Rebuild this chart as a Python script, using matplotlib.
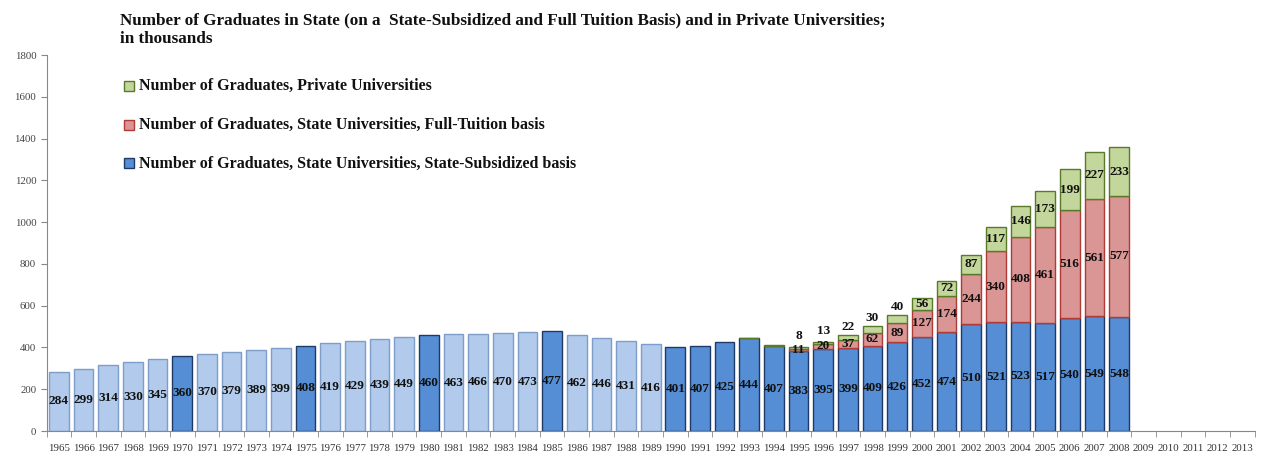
import numpy as np
import matplotlib.pyplot as plt

plt.rcParams['font.family'] = ['Liberation Serif', 'DejaVu Serif']

# Data (thousands of graduates)
years = list(range(1965, 2014))
state_subsidized = [284, 299, 314, 330, 345, 360, 370, 379, 389, 399,
                    408, 419, 429, 439, 449, 460, 463, 466, 470, 473,
                    477, 462, 446, 431, 416, 401, 407, 425, 444, 407,
                    383, 395, 399, 409, 426, 452, 474, 510, 521, 523,
                    517, 540, 549, 548]
full_tuition = [0] * 30 + [11, 20, 37, 62, 89, 127, 174, 244, 340, 408,
                           461, 516, 561, 577]
private = [0] * 28 + [3, 4, 8, 13, 22, 30, 40, 56, 72, 87, 117, 146,
                      173, 199, 227, 233]
highlight_years = [1970, 1975, 1980, 1985] + list(range(1990, 2009))

n = len(state_subsidized)
x = np.arange(n)
blue = np.array(state_subsidized)
red = np.array(full_tuition)
green = np.array(private)

fig = plt.figure(figsize=(12.61, 4.59), dpi=100)
ax = fig.add_axes([0.037, 0.061, 0.958, 0.819])

w = 0.8
face_blue = ['#558ED5' if years[i] in highlight_years else '#B2CBEC' for i in range(n)]
edge_blue = ['#1F3A66' if years[i] in highlight_years else '#7E9DC9' for i in range(n)]
ax.bar(x, blue, w, color=face_blue, edgecolor=edge_blue, linewidth=1.0, zorder=2)

rm = red > 0
ax.bar(x[rm], red[rm], w, bottom=blue[rm], color='#D99694', edgecolor='#B03A36',
       linewidth=1.0, zorder=2)
gm = green > 0
ax.bar(x[gm], green[gm], w, bottom=(blue + red)[gm], color='#C3D69B', edgecolor='#5A7A2A',
       linewidth=1.0, zorder=2)

lab = dict(ha='center', va='center', fontsize=9.5, fontweight='bold', color='#111111', zorder=3)
for i in range(n):
    ax.text(x[i], blue[i] / 2, str(blue[i]), **lab)
    if red[i] >= 8:
        ax.text(x[i], blue[i] + red[i] / 2, str(red[i]), **lab)
    if green[i] >= 8:
        top = blue[i] + red[i]
        if green[i] < 50:
            ax.text(x[i], top + green[i] + max(40, 62 - green[i]), str(green[i]), **lab)
        else:
            ax.text(x[i], top + green[i] / 2, str(green[i]), **lab)

ax.set_xlim(-0.5, len(years) - 0.5)
ax.set_ylim(0, 1800)
ax.set_yticks(range(0, 1801, 200))
ax.set_xticks(np.arange(len(years)))
ax.set_xticklabels([str(y) for y in years])
ax.set_xticks(np.arange(-0.5, len(years), 1), minor=True)
ax.tick_params(axis='x', which='major', length=0, labelsize=7.8, colors='#333333', pad=9)
ax.tick_params(axis='x', which='minor', length=4, color='#888888', direction='out')
ax.tick_params(axis='y', length=4, color='#888888', labelsize=7.8, labelcolor='#444444')
for s in ['top', 'right']:
    ax.spines[s].set_visible(False)
for s in ['left', 'bottom']:
    ax.spines[s].set_color('#888888')

fig.text(0.095, 0.955, 'Number of Graduates in State (on a  State-Subsidized and Full Tuition Basis) and in Private Universities;',
         fontsize=12.3, fontweight='bold', va='center', color='#111111')
fig.text(0.095, 0.915, 'in thousands', fontsize=12.3, fontweight='bold', va='center', color='#111111')

legend_items = [('Number of Graduates, Private Universities', '#C3D69B', '#5A7A2A'),
                ('Number of Graduates, State Universities, Full-Tuition basis', '#D99694', '#B03A36'),
                ('Number of Graduates, State Universities, State-Subsidized basis', '#558ED5', '#1F3A66')]
for k, (txt, fc, ec) in enumerate(legend_items):
    yy = 0.812 - k * 0.084
    fig.patches.append(plt.Rectangle((0.0985, yy - 0.011), 0.0075, 0.022, transform=fig.transFigure,
                                     facecolor=fc, edgecolor=ec, linewidth=1.0))
    fig.text(0.110, yy, txt, fontsize=11.5, fontweight='bold', va='center', color='#111111')

fig.savefig('out.png', dpi=100)
